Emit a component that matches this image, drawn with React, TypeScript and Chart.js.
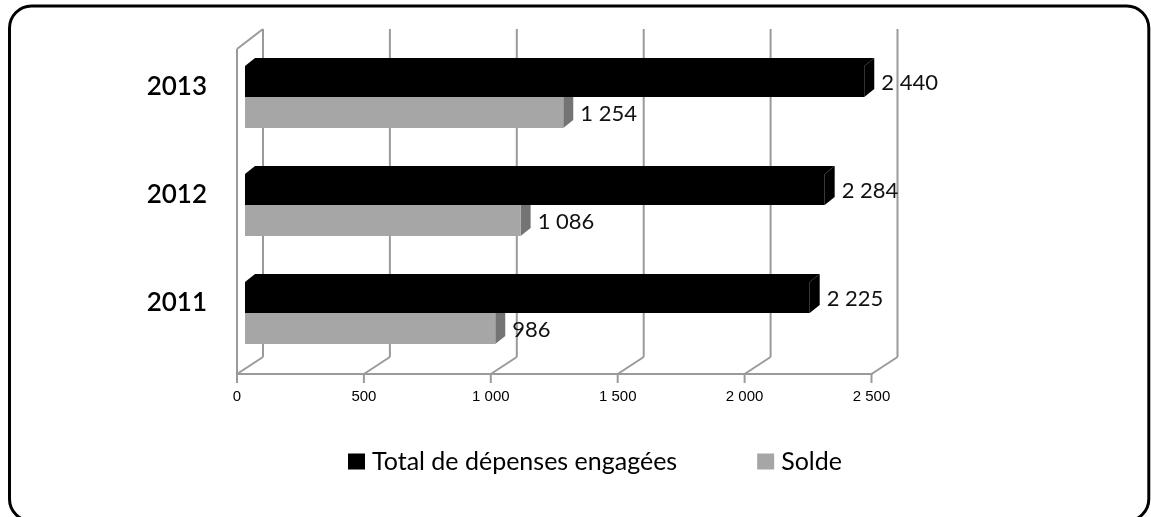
import { useEffect, useRef } from 'react';
import { Chart, registerables } from 'chart.js';

Chart.register(...registerables);

// Budget data per year
const years = ['2011', '2012', '2013'];
const totalDepenses = [2225, 2284, 2440];
const solde = [986, 1086, 1254];
const seriesNames = ['Total de dépenses engagées', 'Solde'];
const xTicks = [0, 500, 1000, 1500, 2000, 2500];

const faceColors = ['#000000', '#a6a6a6'];
const sideColors = ['#000000', '#747474'];

// thousands separated by a plain space: 2440 -> "2 440"
const fmt = (v: number) => String(v).replace(/\B(?=(\d{3})+(?!\d))/g, ' ');

// oblique offsets used for the pseudo-3D look
const BAR_DX = 10;
const BAR_DY = -8;
const FRONT_DX = -8;
const FRONT_DY = 7;
const BACK_DX = 18;
const BACK_DY = -10;

const framePlugin = {
  id: 'frame3d',
  beforeDatasetsDraw(chart: any) {
    const { ctx, chartArea: ca } = chart;
    const xs = chart.scales.x;
    const px = (v: number) => xs.getPixelForValue(v);
    const floorFront = ca.bottom + FRONT_DY;
    const floorBack = ca.bottom + BACK_DY;
    const backTop = ca.top - 14;
    const leftTop = ca.top + 6;
    const line = (x1: number, y1: number, x2: number, y2: number) => {
      ctx.beginPath();
      ctx.moveTo(x1, y1);
      ctx.lineTo(x2, y2);
      ctx.stroke();
    };
    ctx.save();
    ctx.strokeStyle = '#9a9a9a';
    ctx.lineWidth = 2;
    const vals = xs.ticks.map((t: any) => t.value);
    // back wall verticals
    vals.forEach((v: number) => line(px(v) + BACK_DX, backTop, px(v) + BACK_DX, floorBack));
    // floor diagonals
    vals.forEach((v: number) => line(px(v) + FRONT_DX, floorFront, px(v) + BACK_DX, floorBack));
    // front axis + tick marks
    line(px(vals[0]) + FRONT_DX - 1, floorFront, px(vals[vals.length - 1]) + FRONT_DX + 1, floorFront);
    vals.forEach((v: number) => line(px(v) + FRONT_DX, floorFront, px(v) + FRONT_DX, floorFront + 9));
    // left wall
    const x0 = px(vals[0]);
    line(x0 + FRONT_DX, floorFront, x0 + FRONT_DX, leftTop);
    line(x0 + FRONT_DX, leftTop, x0 + BACK_DX, backTop);
    ctx.restore();

    // top and side faces of the bars; the front faces are drawn by Chart.js on top
    ctx.save();
    chart.data.datasets.forEach((ds: any, di: number) => {
      const meta = chart.getDatasetMeta(di);
      meta.data.forEach((bar: any) => {
        const { x, y, base, height } = bar.getProps(['x', 'y', 'base', 'height'], true);
        const left = Math.min(base, x);
        const right = Math.max(base, x);
        const top = y - height / 2;
        const bottom = y + height / 2;
        ctx.fillStyle = faceColors[di];
        ctx.beginPath();
        ctx.moveTo(left, top);
        ctx.lineTo(left + BAR_DX, top + BAR_DY);
        ctx.lineTo(right + BAR_DX, top + BAR_DY);
        ctx.lineTo(right, top);
        ctx.closePath();
        ctx.fill();
        ctx.fillStyle = sideColors[di];
        ctx.beginPath();
        ctx.moveTo(right, top);
        ctx.lineTo(right + BAR_DX, top + BAR_DY);
        ctx.lineTo(right + BAR_DX, bottom + BAR_DY);
        ctx.lineTo(right, bottom);
        ctx.closePath();
        ctx.fill();
      });
    });
    ctx.restore();
  },
  afterDatasetsDraw(chart: any) {
    const { ctx } = chart;
    ctx.save();
    ctx.font = '22px Lato';
    ctx.fillStyle = '#111111';
    ctx.textAlign = 'left';
    ctx.textBaseline = 'middle';
    chart.data.datasets.forEach((ds: any, di: number) => {
      const meta = chart.getDatasetMeta(di);
      meta.data.forEach((bar: any, i: number) => {
        const { x, y } = bar.getProps(['x', 'y'], true);
        ctx.fillText(fmt(ds.data[i]), x + BAR_DX + 7, y + 1);
      });
    });
    ctx.restore();
  },
  afterDraw(chart: any) {
    const { ctx, chartArea: ca } = chart;
    ctx.save();
    // legend
    ctx.font = '25px Lato';
    ctx.textAlign = 'left';
    ctx.textBaseline = 'middle';
    const yMid = chart.height - 55.5;
    let x = ca.left + 103;
    chart.data.datasets.forEach((ds: any) => {
      ctx.fillStyle = ds.backgroundColor;
      ctx.fillRect(x, yMid - 8, 17, 16);
      x += 17 + 7;
      ctx.fillStyle = '#000000';
      ctx.fillText(ds.label, x, yMid);
      x += ctx.measureText(ds.label).width + 80;
    });
    // rounded outer frame
    ctx.strokeStyle = '#000000';
    ctx.lineWidth = 3;
    ctx.beginPath();
    ctx.roundRect(9.5, 6, 1139.3, 515, 22);
    ctx.stroke();
    ctx.restore();
  },
};

// axis boxes keep a fixed size and add no extra padding to the layout
const fixedBox = (w?: number, h?: number) => (s: any) => {
  if (w !== undefined) s.width = w;
  if (h !== undefined) s.height = h;
  s.paddingTop = 0;
  s.paddingBottom = 0;
  s.paddingLeft = 0;
  s.paddingRight = 0;
};

export default function App() {
  const canvasRef = useRef<HTMLCanvasElement | null>(null);

  useEffect(() => {
    if (!canvasRef.current) return;
    const chart = new Chart(canvasRef.current, {
      type: 'bar',
      data: {
        labels: years,
        datasets: [
          {
            label: seriesNames[0],
            data: totalDepenses,
            backgroundColor: faceColors[0],
            categoryPercentage: 0.574,
            barPercentage: 1,
          },
          {
            label: seriesNames[1],
            data: solde,
            backgroundColor: faceColors[1],
            categoryPercentage: 0.574,
            barPercentage: 1,
          },
        ],
      },
      options: {
        animation: false,
        responsive: false,
        indexAxis: 'y',
        layout: { autoPadding: false, padding: { left: 0, right: 271.5, top: 43, bottom: 0 } },
        plugins: {
          legend: { display: false },
          tooltip: { enabled: false },
        },
        scales: {
          x: {
            min: 0,
            max: 2500,
            afterBuildTicks: (s: any) => {
              s.ticks = xTicks.map((value) => ({ value }));
            },
            afterFit: fixedBox(undefined, 150),
            ticks: {
              callback: (v: any) => fmt(Number(v)),
              labelOffset: FRONT_DX,
              padding: 21,
              maxRotation: 0,
              autoSkip: false,
              color: '#000000',
              font: { family: 'Liberation Sans', size: 15 },
            },
            grid: { display: false, drawTicks: false },
            border: { display: false },
          },
          y: {
            reverse: true,
            afterFit: fixedBox(245, undefined),
            ticks: {
              labelOffset: -10,
              padding: 38,
              color: '#000000',
              font: { family: 'Lato', size: 26, weight: '600' },
            },
            grid: { display: false, drawTicks: false },
            border: { display: false },
          },
        },
      },
      plugins: [framePlugin],
    } as any);
    return () => chart.destroy();
  }, []);

  return (
    <div style={{ position: 'absolute', left: 0, top: 0, width: 1151, height: 517, background: '#ffffff' }}>
      <canvas ref={canvasRef} width={1151} height={517} style={{ display: 'block' }} />
    </div>
  );
}
